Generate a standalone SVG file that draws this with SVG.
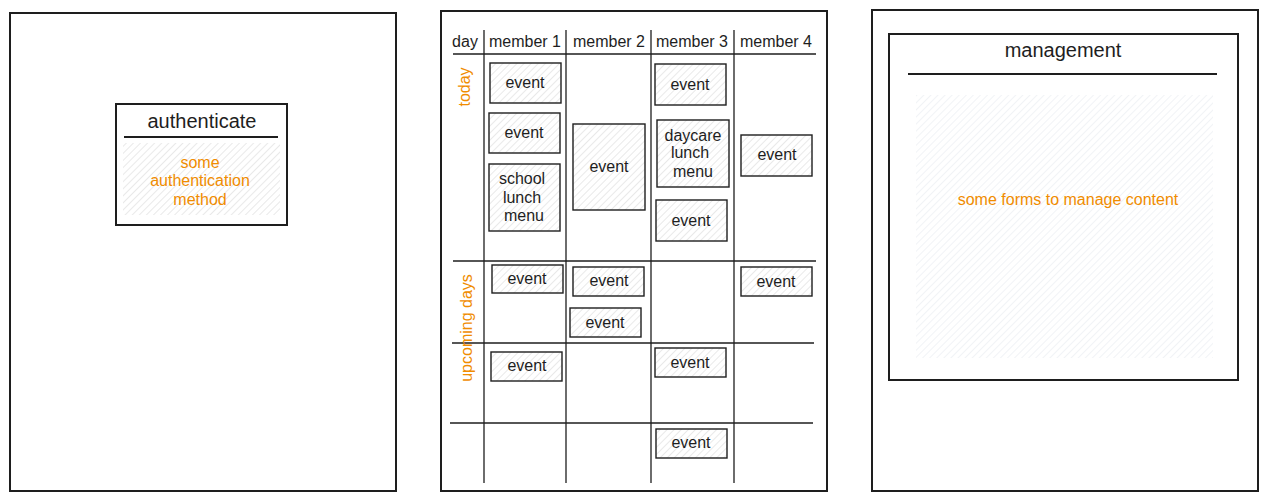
<svg xmlns="http://www.w3.org/2000/svg" width="1267" height="501" viewBox="0 0 1267 501">
<defs>
<pattern id="hatch" width="5" height="5" patternUnits="userSpaceOnUse" patternTransform="rotate(45)">
<line x1="0" y1="0" x2="0" y2="5" stroke="#d4d4d4" stroke-width="1"/>
</pattern>
<pattern id="hatchBlue" width="5" height="5" patternUnits="userSpaceOnUse" patternTransform="rotate(45)">
<line x1="0" y1="0" x2="0" y2="5" stroke="#e3e8ee" stroke-width="1"/>
</pattern>
<style>
.panel{fill:#fff;stroke:#1e1e1e;stroke-width:2}
.box{fill:#fff;stroke:#1e1e1e;stroke-width:2}
.ev{fill:url(#hatch);stroke:#1e1e1e;stroke-width:1.4}
.grid{stroke:#1e1e1e;stroke-width:1.3;fill:none}
.t{font-family:"Liberation Sans",Arial,sans-serif;font-size:16px;fill:#1e1e1e;text-anchor:middle}
.big{font-size:20px}
.o{fill:#f08c00}
</style>
</defs>
<rect width="1267" height="501" fill="#fff"/>

<g id="panel-auth">
<rect class="panel" x="10" y="13" width="386" height="478"/>
</g>
<g id="authenticate">
<rect class="box" x="116" y="104" width="171" height="121"/>
<text class="t big" x="202" y="128">authenticate</text>
<line x1="124" y1="137" x2="278" y2="137" stroke="#1e1e1e" stroke-width="2"/>
<rect x="123" y="143" width="157" height="72" fill="url(#hatch)"/>
<text class="t o" x="200" y="168">some</text>
<text class="t o" x="200" y="186">authentication</text>
<text class="t o" x="200" y="205">method</text>
</g>

<g id="panel-calendar">
<rect class="panel" x="441" y="11" width="386" height="480"/>
</g>
<g id="grid">
<line class="grid" x1="453" y1="54" x2="816" y2="54"/>
<line class="grid" x1="453" y1="261" x2="816" y2="261"/>
<line class="grid" x1="452" y1="343" x2="814" y2="343"/>
<line class="grid" x1="450" y1="423" x2="813" y2="423"/>
<line class="grid" x1="484" y1="30" x2="484" y2="483"/>
<line class="grid" x1="566" y1="30" x2="566" y2="483"/>
<line class="grid" x1="651" y1="30" x2="651" y2="483"/>
<line class="grid" x1="734" y1="30" x2="734" y2="483"/>
</g>
<g id="headers">
<text class="t" x="465" y="47">day</text>
<text class="t" x="525" y="47">member 1</text>
<text class="t" x="609" y="47">member 2</text>
<text class="t" x="692" y="47">member 3</text>
<text class="t" x="776" y="47">member 4</text>
<text class="t o" transform="translate(470,87) rotate(-90)">today</text>
<text class="t o" transform="translate(472,328) rotate(-90)">upcoming days</text>
</g>

<g id="ev-m1-1"><rect class="ev" x="490" y="63" width="71" height="40"/><text class="t" x="525" y="88">event</text></g>
<g id="ev-m1-2"><rect class="ev" x="489" y="113" width="71" height="40"/><text class="t" x="524" y="138">event</text></g>
<g id="ev-m1-3"><rect class="ev" x="489" y="164" width="71" height="67"/><text class="t" x="522" y="184">school</text><text class="t" x="522" y="203">lunch</text><text class="t" x="524" y="221">menu</text></g>
<g id="ev-m2-1"><rect class="ev" x="573" y="124" width="72" height="86"/><text class="t" x="609" y="172">event</text></g>
<g id="ev-m3-1"><rect class="ev" x="655" y="64" width="71" height="41"/><text class="t" x="690" y="90">event</text></g>
<g id="ev-m3-2"><rect class="ev" x="657" y="120" width="72" height="67"/><text class="t" x="693" y="141">daycare</text><text class="t" x="690" y="158">lunch</text><text class="t" x="693" y="177">menu</text></g>
<g id="ev-m3-3"><rect class="ev" x="656" y="200" width="71" height="41"/><text class="t" x="691" y="226">event</text></g>
<g id="ev-m4-1"><rect class="ev" x="741" y="135" width="71" height="41"/><text class="t" x="777" y="160">event</text></g>
<g id="ev-r2-m1"><rect class="ev" x="492" y="265" width="71" height="28"/><text class="t" x="527" y="284">event</text></g>
<g id="ev-r2-m2a"><rect class="ev" x="573" y="267" width="71" height="29"/><text class="t" x="609" y="286">event</text></g>
<g id="ev-r2-m2b"><rect class="ev" x="570" y="308" width="71" height="29"/><text class="t" x="605" y="328">event</text></g>
<g id="ev-r2-m4"><rect class="ev" x="741" y="267" width="71" height="29"/><text class="t" x="776" y="287">event</text></g>
<g id="ev-r3-m1"><rect class="ev" x="491" y="352" width="71" height="29"/><text class="t" x="527" y="371">event</text></g>
<g id="ev-r3-m3"><rect class="ev" x="655" y="348" width="71" height="29"/><text class="t" x="690" y="368">event</text></g>
<g id="ev-r4-m3"><rect class="ev" x="656" y="429" width="71" height="29"/><text class="t" x="691" y="448">event</text></g>

<g id="panel-management">
<rect class="panel" x="872" y="10" width="386" height="481"/>
</g>
<g id="management">
<rect class="box" x="889" y="34" width="349" height="346"/>
<text class="t big" x="1063" y="57">management</text>
<line x1="908" y1="74" x2="1217" y2="74" stroke="#1e1e1e" stroke-width="2"/>
<rect x="916" y="95" width="297" height="263" fill="url(#hatchBlue)"/>
<text class="t o" x="1068" y="205">some forms to manage content</text>
</g>
</svg>
